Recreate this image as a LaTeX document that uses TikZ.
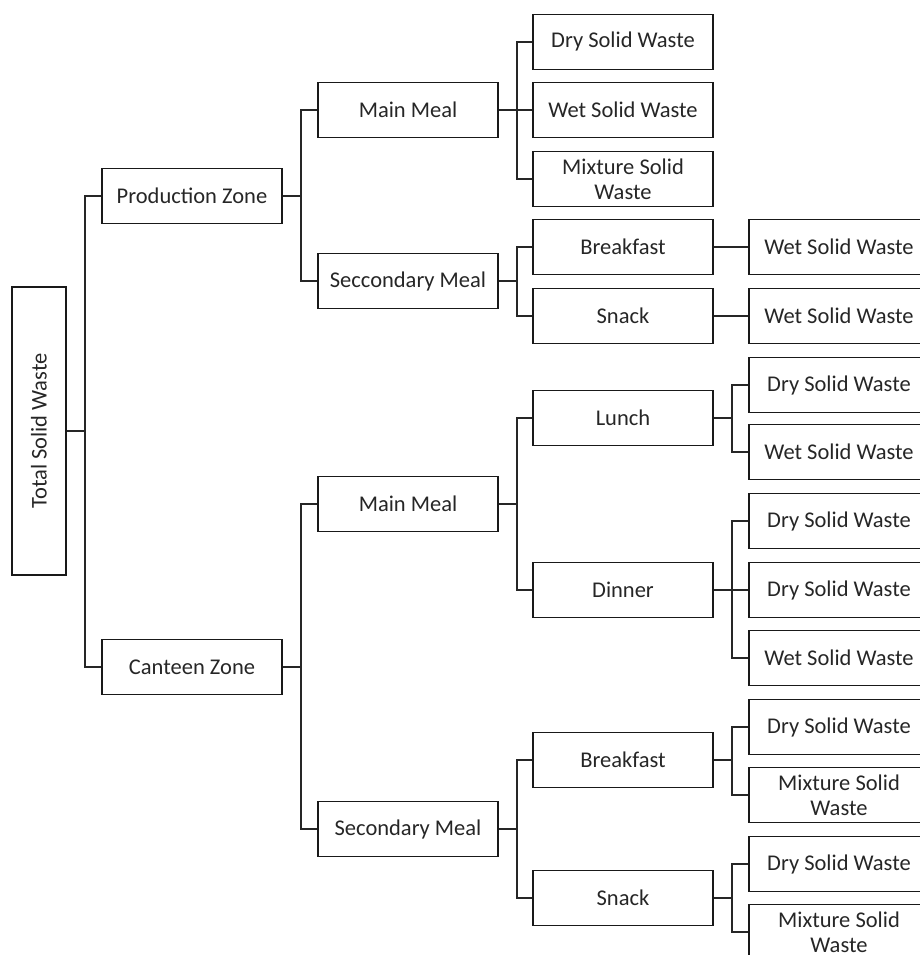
\documentclass[tikz,border=0pt]{standalone}
\usepackage{fontspec}
\setmainfont{Carlito}
\begin{document}
\begin{tikzpicture}[x=1pt,y=-1pt,
  box/.style={draw=black!90, line width=1.6pt, minimum width=180pt, minimum height=55pt,
    inner sep=0pt, align=center, font=\fontsize{22.5}{25}\selectfont, text=black!85},
  link/.style={draw=black!85, line width=1.6pt}]
\useasboundingbox (0,0) rectangle (919,955);
% level 0
\node[draw=black!90, line width=1.6pt, minimum width=54pt, minimum height=288pt, inner sep=0pt,
  font=\fontsize{22.5}{25}\selectfont, text=black!85] (tot) at (39,431) {\rotatebox{90}{Total Solid Waste}};
% level 1
\node[box] (pz) at (192,196) {Production Zone};
\node[box] (cz) at (192,667) {Canteen Zone};
% level 2
\node[box] (pmm) at (408,110) {Main Meal};
\node[box] (psm) at (408,281) {Seccondary Meal};
\node[box] (cmm) at (408,504) {Main Meal};
\node[box] (csm) at (408,829) {Secondary Meal};
% level 3
\node[box] (pdry) at (623,42) {Dry Solid Waste};
\node[box] (pwet) at (623,110) {Wet Solid Waste};
\node[box] (pmix) at (623,179) {Mixture Solid\\Waste};
\node[box] (pbr) at (623,247) {Breakfast};
\node[box] (psn) at (623,316) {Snack};
\node[box] (lun) at (623,418) {Lunch};
\node[box] (din) at (623,590) {Dinner};
\node[box] (cbr) at (623,760) {Breakfast};
\node[box] (csn) at (623,898) {Snack};
% level 4
\node[box] (pbrw) at (839,247) {Wet Solid Waste};
\node[box] (psnw) at (839,316) {Wet Solid Waste};
\node[box] (lund) at (839,385) {Dry Solid Waste};
\node[box] (lunw) at (839,452) {Wet Solid Waste};
\node[box] (dind1) at (839,521) {Dry Solid Waste};
\node[box] (dind2) at (839,590) {Dry Solid Waste};
\node[box] (dinw) at (839,658) {Wet Solid Waste};
\node[box] (cbrd) at (839,727) {Dry Solid Waste};
\node[box] (cbrm) at (839,795) {Mixture Solid\\Waste};
\node[box] (csnd) at (839,864) {Dry Solid Waste};
\node[box] (csnm) at (839,932) {Mixture Solid\\Waste};
% connectors
\foreach \p/\c in {tot/pz, tot/cz, pz/pmm, pz/psm, cz/cmm, cz/csm,
  pmm/pdry, pmm/pwet, pmm/pmix, psm/pbr, psm/psn, cmm/lun, cmm/din, csm/cbr, csm/csn,
  lun/lund, lun/lunw, din/dind1, din/dind2, din/dinw, cbr/cbrd, cbr/cbrm, csn/csnd, csn/csnm}
  \draw[link] (\p.east) -- ++(18,0) |- (\c.west);
\draw[link] (pbr) -- (pbrw);
\draw[link] (psn) -- (psnw);
\end{tikzpicture}
\end{document}
